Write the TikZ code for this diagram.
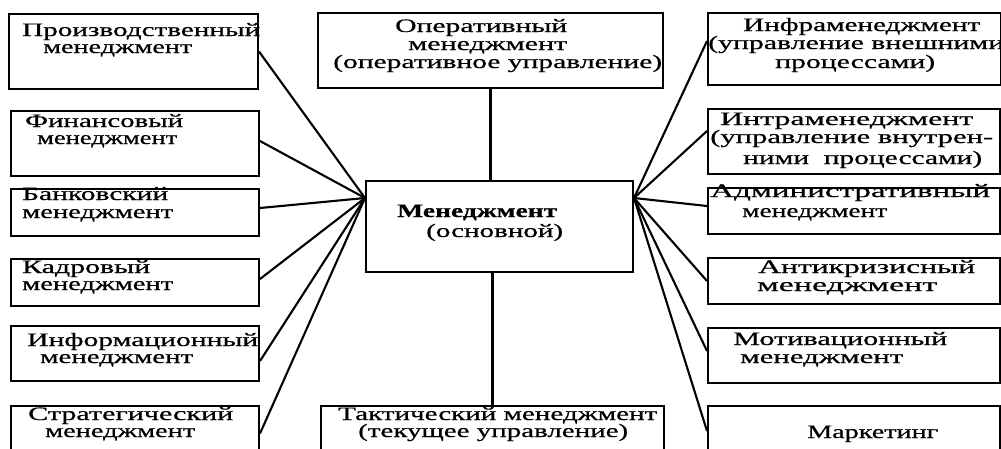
\documentclass[tikz,border=0pt]{standalone}
\usepackage{fontspec}
\setmainfont{Liberation Serif}[FakeBold=0.5]
\usetikzlibrary{calc}
\tikzset{
  box/.style={draw, line width=2pt, rectangle, inner sep=0pt, anchor=north west},
  txt/.style={anchor=base west, inner sep=0pt, font=\fontsize{19}{21}\selectfont},
  link/.style={line width=2.1pt},
}
\newcommand\BX[5]{\node[box, minimum width={#4pt-#2pt}, minimum height={#5pt-#3pt}] (#1) at (#2,#3) {};}
\newcommand\TLine[5]{\node[txt] (#1) at (#2,#3) {\resizebox{#4pt}{\height}{#5}};}
\begin{document}
\begin{tikzpicture}[x=1pt,y=-1pt]
\path[use as bounding box, fill=white] (0,0) rectangle (1001,448);
\clip (0,0) rectangle (1001,448);
% boxes
\BX{b1}{8}{13}{257}{88}
\BX{b2}{10}{110}{258}{175}
\BX{b3}{10}{188}{258}{235}
\BX{b4}{10}{258}{258}{305}
\BX{b5}{10}{325}{258}{380}
\BX{b6}{10}{405}{258}{460}
\BX{top}{317}{12}{662}{87}
\BX{c}{365}{180}{632}{271}
\BX{bot}{320}{405}{663}{460}
\BX{r1}{707}{12}{1000}{84}
\BX{r2}{707}{108}{999}{173}
\BX{r3}{707}{187}{999}{233}
\BX{r4}{707}{257}{999}{303}
\BX{r5}{707}{327}{999}{382}
\BX{r6}{707}{405}{999}{460}
% texts
\TLine{t1a}{22}{36}{238}{Производственный}
\TLine{t1b}{43}{53}{149}{менеджмент}
\TLine{t2a}{25}{127}{158}{Финансовый}
\TLine{t2b}{37}{144}{140}{менеджмент}
\TLine{t3a}{22}{200}{146}{Банковский}
\TLine{t3b}{22}{218}{151}{менеджмент}
\TLine{t4a}{22}{273}{128}{Кадровый}
\TLine{t4b}{22}{290}{151}{менеджмент}
\TLine{t5a}{27}{346}{231}{Информационный}
\TLine{t5b}{40}{363}{153}{менеджмент}
\TLine{t6a}{28}{420}{205}{Стратегический}
\TLine{t6b}{45}{437}{150}{менеджмент}
\TLine{tta}{395}{32}{172}{Оперативный}
\TLine{ttb}{408}{50}{159}{менеджмент}
\TLine{ttc}{333}{68}{329}{(оперативное управление)}
\TLine{tca}{397}{217}{160}{\bfseries Менеджмент}
\TLine{tcb}{426}{237}{137}{(основной)}
\TLine{tba}{338}{420}{319}{Тактический менеджмент}
\TLine{tbb}{358}{437}{270}{(текущее управление)}
\TLine{r1a}{743}{31}{237}{Инфраменеджмент}
\TLine{r1b}{708}{49}{296}{(управление внешними}
\TLine{r1c}{775}{68}{160}{процессами)}
\TLine{r2a}{720}{125}{253}{Интраменеджмент}
\TLine{r2b}{710}{143}{283}{(управление внутрен-}
\TLine{r2c}{743}{164}{239}{ними\ \ процессами)}
\TLine{r3a}{710}{197}{280}{Административный}
\TLine{r3b}{742}{217}{145}{менеджмент}
\TLine{r4a}{758}{273}{217}{Антикризисный}
\TLine{r4b}{757}{291}{180}{менеджмент}
\TLine{r5a}{733}{345}{214}{Мотивационный}
\TLine{r5b}{740}{363}{163}{менеджмент}
\TLine{r6a}{807}{438}{131}{Маркетинг}
% connectors
\coordinate (cl) at ($(c.north west)+(0,18)$);
\coordinate (cr) at ($(c.north east)+(0,18)$);
\draw[link] (b1.east) -- (cl);
\draw[link] ($(b2.east)+(0,-2.5)$) -- (cl);
\draw[link] ($(b3.east)+(0,-4.5)$) -- (cl);
\draw[link] ($(b4.east)+(0,-3.5)$) -- (cl);
\draw[link] ($(b5.east)+(0,7.5)$) -- (cl);
\draw[link] (b6.east) -- (cl);
\draw[link] ($(r1.west)+(0,-8)$) -- (cr);
\draw[link] ($(r2.west)+(0,-10.5)$) -- (cr);
\draw[link] ($(r3.west)+(0,-5)$) -- (cr);
\draw[link] (r4.west) -- (cr);
\draw[link] ($(r5.west)+(0,-4.5)$) -- (cr);
\draw[link] ($(r6.west)+(0,-2.5)$) -- (cr);
\draw[link] (top.south) -- (top.south |- c.north);
\draw[link] (bot.north) -- (bot.north |- c.south);
\end{tikzpicture}
\end{document}
